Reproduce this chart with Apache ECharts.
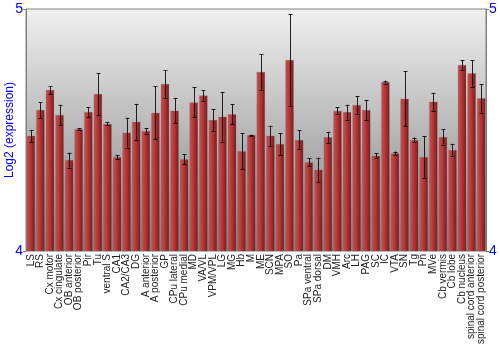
<!DOCTYPE html>
<html>
<head>
<meta charset="utf-8">
<script src="https://cdn.jsdelivr.net/npm/echarts@6/dist/echarts.min.js"></script>
<style>html,body{margin:0;padding:0;background:#fff}#c{width:500px;height:350px}</style>
</head>
<body>
<div id="c"></div>
<script>
var categories = ["LS","RS","Cx motor","Cx cingulate","OB anterior","OB posterior","Pir","Tu","ventral S","CA1","CA2/CA3","DG","A anterior","A posterior","GP","CPu lateral","CPu medial","MD","VA/VL","VPM/VPL","LG","MG","Hb","M","ME","SCN","MPA","SO","Pa","SPa ventral","SPa dorsal","DM","VMH","Arc","LH","PAG","SC","IC","VTA","SN","Tg","Pn","MVe","Cb vermis","Cb lobe","Cb nucleus","spinal cord anterior","spinal cord posterior"];
var means = [4.476,4.583,4.665,4.562,4.376,4.504,4.574,4.649,4.525,4.388,4.489,4.534,4.496,4.571,4.690,4.580,4.379,4.614,4.643,4.541,4.555,4.565,4.412,4.479,4.740,4.476,4.442,4.789,4.459,4.367,4.336,4.470,4.579,4.574,4.603,4.583,4.394,4.698,4.404,4.629,4.459,4.388,4.617,4.471,4.417,4.769,4.734,4.631];
var errors = [0.025,0.033,0.017,0.043,0.031,0.004,0.021,0.087,0.006,0.008,0.062,0.074,0.011,0.109,0.058,0.053,0.021,0.062,0.022,0.044,0.103,0.041,0.074,0.002,0.074,0.042,0.044,0.189,0.039,0.017,0.050,0.023,0.014,0.031,0.037,0.042,0.009,0.006,0.007,0.113,0.010,0.086,0.037,0.032,0.026,0.019,0.055,0.059];
var yTicks = [4, 5];

var errData = means.map(function(m, i){ return [i, m - errors[i], m + errors[i]]; });

var chart = echarts.init(document.getElementById('c'), null, {renderer: 'canvas'});
var yAxisBase = {
  type: 'value', min: yTicks[0], max: yTicks[1], interval: yTicks[1] - yTicks[0],
  axisLine: {show: true, lineStyle: {color: '#808080', width: 1}},
  axisTick: {show: true, length: 3, lineStyle: {color: '#808080'}},
  splitLine: {show: false},
  axisLabel: {color: '#0000ff', fontSize: 14, fontFamily: 'Liberation Sans', margin: 3}
};
chart.setOption({
  animation: false,
  grid: {
    left: 26, right: 14, top: 9, bottom: 99,
    show: true, borderColor: '#808080', borderWidth: 1,
    backgroundColor: new echarts.graphic.LinearGradient(0, 0, 0, 1, [
      {offset: 0, color: '#f0f0f0'}, {offset: 1, color: '#808080'}
    ])
  },
  xAxis: {
    type: 'category', data: categories,
    axisLine: {show: false}, axisTick: {show: false},
    axisLabel: {interval: 0, rotate: 90, fontSize: 10, fontFamily: 'Liberation Sans', color: '#222', margin: 3}
  },
  yAxis: [
    Object.assign({}, yAxisBase, {position: 'left'}),
    Object.assign({}, yAxisBase, {position: 'right'})
  ],
  graphic: [{
    type: 'text', x: 10, y: 130, rotation: Math.PI / 2,
    style: {text: 'Log2 (expression)', fill: '#0000ff', font: '12px "Liberation Sans"', textAlign: 'center', textVerticalAlign: 'middle'}
  }],
  series: [{
    type: 'bar', data: means, barCategoryGap: '12%',
    itemStyle: {
      color: new echarts.graphic.LinearGradient(0, 0, 1, 0, [
        {offset: 0, color: '#c85252'}, {offset: 0.45, color: '#b53838'}, {offset: 1, color: '#7a1818'}
      ]),
      borderColor: 'rgba(120,120,120,0.5)', borderWidth: 0.5
    }
  }, {
    type: 'custom', data: errData, z: 5,
    renderItem: function(params, api){
      var x = api.value(0);
      var lo = api.coord([x, api.value(1)]);
      var hi = api.coord([x, api.value(2)]);
      var cx = Math.round(lo[0]) + 0.5;
      var w = 2;
      var st = {stroke: '#000', lineWidth: 1, opacity: 0.85};
      return {type: 'group', children: [
        {type: 'line', shape: {x1: cx, y1: lo[1], x2: cx, y2: hi[1]}, style: st},
        {type: 'line', shape: {x1: cx - w, y1: Math.round(lo[1]) + 0.5, x2: cx + w, y2: Math.round(lo[1]) + 0.5}, style: st},
        {type: 'line', shape: {x1: cx - w, y1: Math.round(hi[1]) + 0.5, x2: cx + w, y2: Math.round(hi[1]) + 0.5}, style: st}
      ]};
    }
  }]
});
</script>
</body>
</html>
